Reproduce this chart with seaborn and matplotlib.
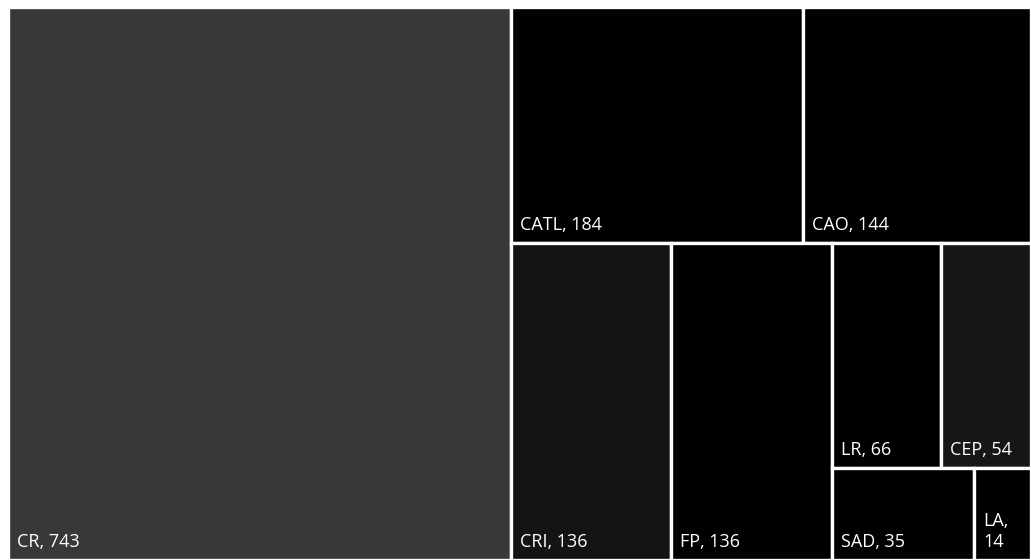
import matplotlib
matplotlib.use("Agg")
import matplotlib.pyplot as plt
import seaborn as sns

sns.set_theme(style="white")
plt.rcParams['font.family'] = ['Open Sans', 'DejaVu Sans']

# Data
names = ["CR", "CATL", "CAO", "CRI", "FP", "LR", "CEP", "SAD", "LA"]
values = [743, 184, 144, 136, 136, 66, 54, 35, 14]
colors = ["#383838", "#000000", "#000000", "#141414", "#000000",
          "#000000", "#161616", "#000000", "#000000"]

val = dict(zip(names, values))
col = dict(zip(names, colors))

# layout tree: ('h'|'v', [children]) ; h = side by side, v = stacked (top first)
tree = ("h", ["CR",
              ("v", [("h", ["CATL", "CAO"]),
                     ("h", ["CRI", "FP",
                            ("v", [("h", ["LR", "CEP"]),
                                   ("h", ["SAD", "LA"])])])])])


def total(node):
    if isinstance(node, str):
        return val[node]
    return sum(total(c) for c in node[1])


W = float(total(tree))
H = 553.0 / 1023.0 * W
rects = {}


def layout(node, x, y, w, h):
    # y = top coordinate, going downward
    if isinstance(node, str):
        rects[node] = (x, y, w, h)
        return
    kind, kids = node
    t = total(node)
    if kind == "h":
        cx = x
        for k in kids:
            kw = w * total(k) / t
            layout(k, cx, y, kw, h)
            cx += kw
    else:
        cy = y
        for k in kids:
            kh = h * total(k) / t
            layout(k, x, cy, w, kh)
            cy += kh


layout(tree, 0.0, 0.0, W, H)

fig = plt.figure(figsize=(10.31, 5.60), dpi=100)
ax = fig.add_axes([8 / 1031, 0, 1023 / 1031, 553 / 560])
ax.set_xlim(0, W)
ax.set_ylim(H, 0)
ax.axis("off")

px = W / 1023.0  # data units per pixel
for n in names:
    x, y, w, h = rects[n]
    ax.bar(x, h, width=w, bottom=y, align="edge", color=col[n],
           edgecolor="white", linewidth=2.4)
    label = f"{n}, {val[n]}"
    if w < 60 * px:
        label = f"{n},\n{val[n]}"
    ax.text(x + 9 * px, y + h - 13 * px, label, color="white",
            fontsize=13, ha="left", va="baseline", linespacing=1.25)

fig.savefig("out.png", dpi=100, facecolor="white")
